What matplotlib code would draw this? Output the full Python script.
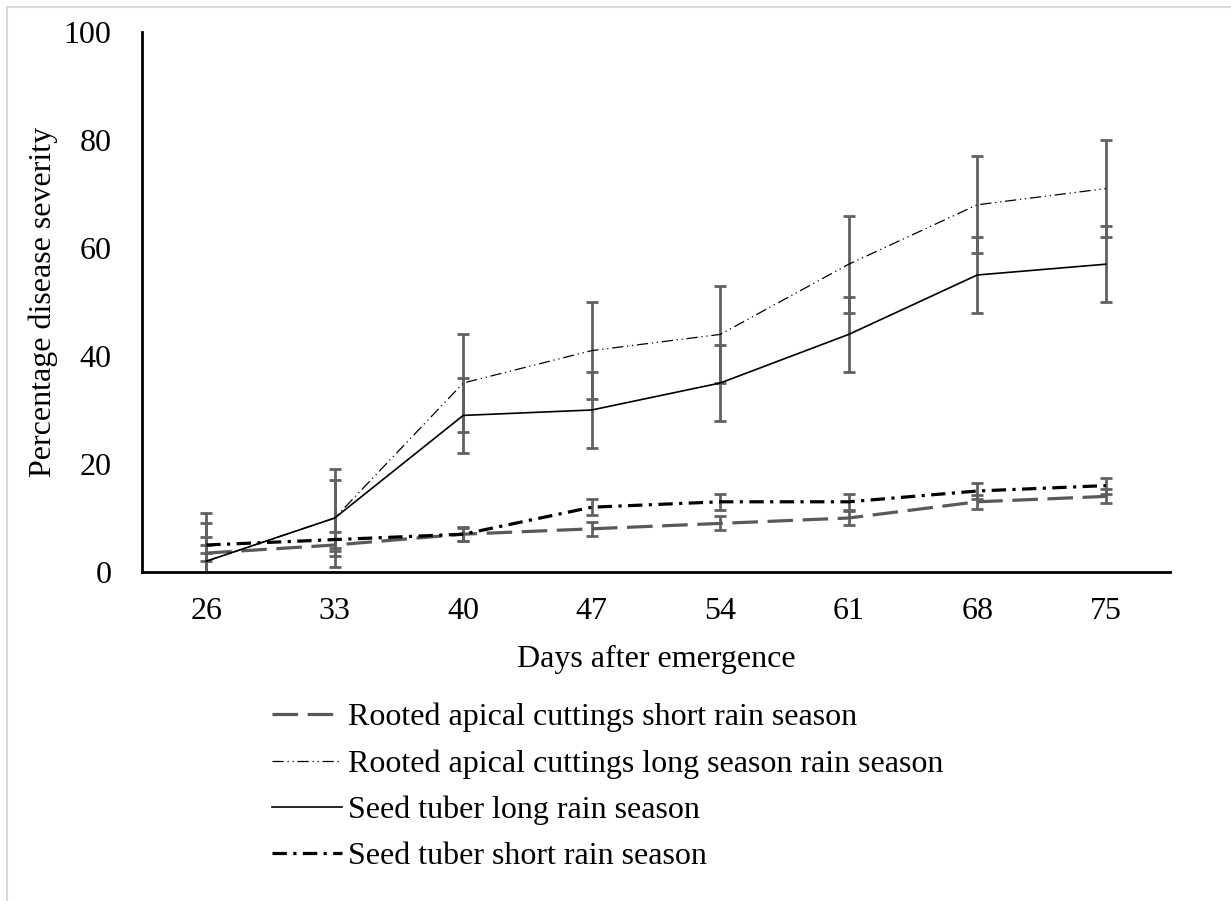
import matplotlib
matplotlib.use("Agg")
import matplotlib.pyplot as plt
from matplotlib.patches import Rectangle

days = ["26", "33", "40", "47", "54", "61", "68", "75"]

rac_short = [3.5, 5, 7, 8, 9, 10, 13, 14]
rac_short_err = [1.5, 1.2, 1.2, 1.3, 1.3, 1.3, 1.3, 1.3]
rac_long = [2, 10, 35, 41, 44, 57, 68, 71]
rac_long_err = [9, 9, 9, 9, 9, 9, 9, 9]
st_long = [2, 10, 29, 30, 35, 44, 55, 57]
st_long_err = [7, 7, 7, 7, 7, 7, 7, 7]
st_short = [5, 6, 7, 12, 13, 13, 15, 16]
st_short_err = [1.5, 1.5, 1.3, 1.5, 1.5, 1.5, 1.5, 1.5]

labels = ["Rooted apical cuttings short rain season",
          "Rooted apical cuttings long season rain season",
          "Seed tuber long rain season",
          "Seed tuber short rain season"]

plt.rcParams['font.family'] = ['Liberation Serif', 'DejaVu Serif']
fs = 23

fig = plt.figure(figsize=(12.31, 9.01), dpi=100)
ax = fig.add_axes([142 / 1231, 1 - 572 / 901, (1170 - 142) / 1231, (572 - 32) / 901])

x = list(range(len(days)))
errc = "#616161"

series = [
    (rac_short, rac_short_err, dict(color="#595959", lw=2.3, dashes=(8, 3))),
    (rac_long, rac_long_err, dict(color="black", lw=0.9, dashes=(9, 3, 1, 3, 1, 3))),
    (st_long, st_long_err, dict(color="black", lw=1.2, linestyle="-")),
    (st_short, st_short_err, dict(color="black", lw=2.3, dashes=(4.5, 2, 1, 2))),
]

handles = []
for (vals, err, style), lab in zip(series, labels):
    ax.errorbar(x, vals, yerr=err, fmt="none", ecolor=errc, elinewidth=2,
                capsize=4, capthick=2, zorder=2)
    h, = ax.plot(x, vals, label=lab, zorder=3, **style)
    handles.append(h)

ax.set_xlim(-0.5, len(days) - 0.5)
ax.set_ylim(0, 100)
ax.set_xticks(x)
ax.set_xticklabels(days)
ax.set_yticks(range(0, 101, 20))
ax.tick_params(length=0, labelsize=fs, pad=18)
ax.tick_params(axis="y", pad=22)
for s in ["top", "right"]:
    ax.spines[s].set_visible(False)
for s in ["left", "bottom"]:
    ax.spines[s].set_linewidth(2)
    ax.spines[s].set_color("black")

ax.set_xlabel("Days after emergence", fontsize=fs, labelpad=14)
ax.set_ylabel("Percentage disease severity", fontsize=fs, labelpad=4)

fig.legend(handles=handles, loc="upper left", bbox_to_anchor=(243 / 1231, 1 - 674 / 901),
           frameon=False, fontsize=fs, handlelength=2.2, handletextpad=0.19,
           labelspacing=0.53)

fig.patches.append(Rectangle((7 / 1231, -0.1), 1.2, 1 - 7 / 901 + 0.1,
                             transform=fig.transFigure, fill=False,
                             edgecolor="#d9d9d9", lw=1.5))

fig.savefig("out.png", dpi=100)
